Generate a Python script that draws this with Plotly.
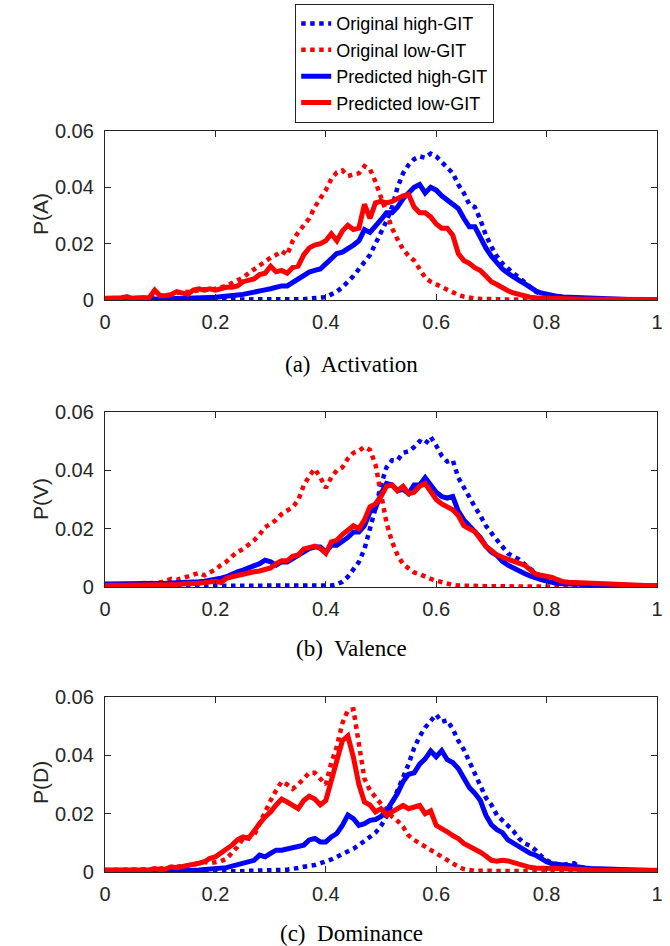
import plotly.graph_objects as go

# ---------------- data ----------------
BIN_CENTERS = [round(i * 0.01, 2) for i in range(101)]

SERIES_NAMES = ["Original high-GIT", "Original low-GIT", "Predicted high-GIT", "Predicted low-GIT"]
PANEL_YLABELS = ["P(A)", "P(V)", "P(D)"]
PANEL_CAPTIONS = ["(a)  Activation", "(b)  Valence", "(c)  Dominance"]
X_TICKS = [0, 0.2, 0.4, 0.6, 0.8, 1]
X_TICK_LABELS = ["0", "0.2", "0.4", "0.6", "0.8", "1"]
Y_TICKS = [0, 0.02, 0.04, 0.06]
Y_TICK_LABELS = ["0", "0.02", "0.04", "0.06"]

# Activation
A_orig_high = [0] * 34 + [
    0.0001, 0.0002, 0.0003, 0.0005, 0.0006, 0.0008, 0.001, 0.002, 0.003, 0.0045,
    0.0064, 0.0085, 0.011, 0.0135, 0.016, 0.020, 0.024, 0.028, 0.033, 0.040,
    0.045, 0.048, 0.050, 0.051, 0.0505, 0.052, 0.051, 0.049, 0.0475, 0.045,
    0.041, 0.038, 0.034, 0.033, 0.0285, 0.023, 0.019, 0.0155, 0.013, 0.011,
    0.0095, 0.008, 0.0064, 0.0045, 0.003, 0.002, 0.0015, 0.0011, 0.0008, 0.0006,
    0.0005, 0.0004, 0.0003, 0.0003, 0.0002, 0.0002, 0.0001,
    0.0001, 0.0001, 0.0001, 0.0001, 0, 0, 0, 0, 0, 0]
A_orig_low = [
    0.0005, 0.0005, 0.0005, 0.0006, 0.0008, 0.0006, 0.0007, 0.0008, 0.001, 0.0012,
    0.0012, 0.0014, 0.0018, 0.0025, 0.003, 0.0028, 0.003, 0.0035, 0.0038, 0.0035,
    0.004, 0.0045, 0.005, 0.006, 0.007, 0.008, 0.0095, 0.011, 0.0125, 0.014,
    0.015, 0.016, 0.0174, 0.016, 0.021, 0.024, 0.0265, 0.029, 0.033, 0.036,
    0.039, 0.043, 0.0453, 0.046, 0.044, 0.0445, 0.045, 0.0475, 0.0465, 0.042,
    0.0365, 0.031, 0.0255, 0.0215, 0.018, 0.0157, 0.014, 0.011, 0.008, 0.0065,
    0.0055, 0.0045, 0.0035, 0.0025, 0.0018, 0.0012, 0.0007, 0.0005, 0.0004, 0.0003,
    0.0003] + [0.0002] * 5 + [0.0001] * 5 + [0] * 20
A_pred_high = [0] * 9 + [
    0.0001, 0.0003, 0.0004, 0.0004, 0.0005, 0.0005, 0.0006, 0.0007, 0.0008, 0.0008,
    0.0009, 0.001, 0.0011, 0.0013, 0.0015, 0.0018, 0.002, 0.0023, 0.0028, 0.0033,
    0.0036, 0.004, 0.0045, 0.005, 0.005, 0.0062, 0.0075, 0.0088, 0.0099, 0.0105,
    0.011, 0.0128, 0.0145, 0.0165, 0.017, 0.018, 0.0195, 0.021, 0.025, 0.024,
    0.026, 0.0285, 0.031, 0.031, 0.033, 0.036, 0.038, 0.040, 0.041, 0.038,
    0.040, 0.039, 0.037, 0.0355, 0.034, 0.0325, 0.029, 0.026, 0.026, 0.022,
    0.0185, 0.0155, 0.013, 0.011, 0.0095, 0.0085, 0.007, 0.0058, 0.0045, 0.0033,
    0.0025, 0.002, 0.0016, 0.0013, 0.0011, 0.001, 0.0008, 0.0007, 0.0006, 0.0005,
    0.0005, 0.0004, 0.0003, 0.0003, 0.0002, 0.0002, 0.0002, 0.0001, 0.0001, 0.0001,
    0.0001, 0.0001]
A_pred_low = [
    0.0006, 0.0006, 0.0007, 0.0008, 0.0012, 0.0005, 0.0008, 0.001, 0.0008, 0.0035,
    0.0015, 0.0015, 0.002, 0.003, 0.0025, 0.002, 0.0035, 0.004, 0.0035, 0.004,
    0.0035, 0.004, 0.0045, 0.0045, 0.005, 0.0065, 0.0068, 0.0075, 0.009, 0.0095,
    0.012, 0.010, 0.0105, 0.0095, 0.0115, 0.012, 0.016, 0.0185, 0.0195, 0.020,
    0.021, 0.0235, 0.021, 0.0245, 0.0265, 0.025, 0.0255, 0.034, 0.029, 0.0345,
    0.035, 0.0345, 0.035, 0.036, 0.037, 0.0375, 0.033, 0.031, 0.031, 0.0295,
    0.027, 0.0255, 0.0255, 0.023, 0.0165, 0.014, 0.013, 0.0115, 0.0105, 0.0085,
    0.0065, 0.0055, 0.0042, 0.0033, 0.0025, 0.002, 0.0013, 0.001, 0.0008, 0.0007,
    0.0006, 0.0005, 0.0005, 0.0004, 0.0004, 0.0004] + [0.0003] * 5 + [0.0002] * 10

# Valence
B_orig_high = [0.0004] * 3 + [0.0002] * 38 + [
    0.0005, 0.0009, 0.0018, 0.0035, 0.006, 0.0086, 0.013, 0.0195, 0.027, 0.035,
    0.041, 0.0435, 0.0435, 0.046, 0.0465, 0.048, 0.050, 0.049, 0.0515, 0.0485,
    0.045, 0.043, 0.0435, 0.0375, 0.034, 0.0305, 0.0275, 0.0245, 0.021, 0.0185,
    0.016, 0.0135, 0.0115, 0.0105, 0.0095, 0.0078, 0.0062, 0.0048, 0.0037, 0.0028,
    0.0022, 0.0018, 0.0015, 0.0012, 0.001, 0.0009, 0.0008, 0.0007, 0.0007, 0.0006,
    0.0005, 0.0005, 0.0004, 0.0004, 0.0003, 0.0003, 0.0003, 0.0002, 0.0002, 0.0002]
B_orig_low = [
    0.0008, 0.0008, 0.0008, 0.0008, 0.0008, 0.0009, 0.001, 0.0014, 0.0012, 0.0013,
    0.0016, 0.002, 0.0028, 0.0025, 0.003, 0.0035, 0.004, 0.0048, 0.004, 0.005,
    0.006, 0.0075, 0.0087, 0.0105, 0.012, 0.013, 0.0143, 0.016, 0.018, 0.0205,
    0.0216, 0.023, 0.025, 0.026, 0.0274, 0.0297, 0.0348, 0.038, 0.0405, 0.0376,
    0.034, 0.0376, 0.040, 0.041, 0.044, 0.046, 0.0467, 0.048, 0.047, 0.042,
    0.031, 0.022, 0.0155, 0.011, 0.0078, 0.0063, 0.005, 0.0044, 0.0035, 0.0028,
    0.0022, 0.0016, 0.0011, 0.0007, 0.0005, 0.0004, 0.0003, 0.0003, 0.0003, 0.0003,
    0.0003] + [0.0002] * 15 + [0.0001] * 15
B_pred_high = [
    0.001, 0.001, 0.0009, 0.0009, 0.001, 0.001, 0.001, 0.0011, 0.0011, 0.0012,
    0.0012, 0.0013, 0.0014, 0.0014, 0.0015, 0.0015, 0.0017, 0.0018, 0.002, 0.0022,
    0.0025, 0.003, 0.0035, 0.0045, 0.0052, 0.0058, 0.0064, 0.007, 0.008, 0.0092,
    0.0086, 0.0075, 0.0086, 0.0086, 0.0098, 0.011, 0.012, 0.0132, 0.0137, 0.0137,
    0.012, 0.0143, 0.0143, 0.0155, 0.017, 0.0189, 0.0189, 0.021, 0.0257, 0.027,
    0.032, 0.0355, 0.035, 0.033, 0.0335, 0.032, 0.035, 0.035, 0.0375, 0.035,
    0.0325, 0.031, 0.0305, 0.031, 0.026, 0.023, 0.021, 0.0195, 0.017, 0.014,
    0.012, 0.0108, 0.0088, 0.0075, 0.0064, 0.0055, 0.0046, 0.0038, 0.003, 0.0025,
    0.002, 0.0014, 0.0012, 0.0011, 0.001, 0.001, 0.0009, 0.0009, 0.0008, 0.0008,
    0.0007, 0.0007, 0.0006, 0.0006, 0.0005, 0.0005, 0.0005, 0.0004, 0.0004, 0.0004,
    0.0004]
B_pred_low = [
    0.0005, 0.0005, 0.0005, 0.0006, 0.0005, 0.0005, 0.0006, 0.0007, 0.0007, 0.0007,
    0.0008, 0.0008, 0.0009, 0.0009, 0.001, 0.001, 0.0012, 0.0013, 0.0015, 0.0018,
    0.002, 0.0015, 0.003, 0.0035, 0.004, 0.0045, 0.005, 0.0052, 0.0055, 0.006,
    0.0065, 0.008, 0.009, 0.009, 0.0105, 0.011, 0.013, 0.0135, 0.014, 0.0132,
    0.0115, 0.0155, 0.016, 0.018, 0.0195, 0.021, 0.020, 0.023, 0.0275, 0.0285,
    0.031, 0.0345, 0.035, 0.033, 0.0345, 0.032, 0.0325, 0.0345, 0.0355, 0.033,
    0.030, 0.0285, 0.0274, 0.0265, 0.0245, 0.021, 0.020, 0.019, 0.0165, 0.014,
    0.0125, 0.011, 0.0102, 0.0095, 0.009, 0.0085, 0.0075, 0.006, 0.0045, 0.004,
    0.0037, 0.0033, 0.0025, 0.0018, 0.0016, 0.0015, 0.0014, 0.0013, 0.0012, 0.0011,
    0.001, 0.0009, 0.0009, 0.0008, 0.0007, 0.0007, 0.0006, 0.0006, 0.0005, 0.0005,
    0.0005]

# Dominance
C_orig_high = [0] * 11 + [
    0.0001, 0.0001, 0.0002, 0.0002, 0.0002, 0.0002, 0.0003, 0.0003, 0.0003, 0.0003,
    0.0003, 0.0003, 0.0003, 0.0003, 0.0003, 0.0004, 0.0004, 0.0004, 0.0005, 0.0005,
    0.0006, 0.0007, 0.0008, 0.001, 0.0014, 0.0018, 0.002, 0.0024, 0.003, 0.0035,
    0.0043, 0.0052, 0.006, 0.007, 0.008, 0.0092, 0.0105, 0.012, 0.0135, 0.0158,
    0.019, 0.0235, 0.028, 0.0325, 0.037, 0.0425, 0.0465, 0.0495, 0.052, 0.054,
    0.0515, 0.052, 0.049, 0.045, 0.042, 0.038, 0.0335, 0.0295, 0.0255, 0.023,
    0.0195, 0.0177, 0.016, 0.014, 0.0115, 0.0098, 0.009, 0.0075, 0.0055, 0.004,
    0.003, 0.0026, 0.0024, 0.0028, 0.003, 0.0015, 0.0012, 0.001, 0.0009, 0.0008,
    0.0007, 0.0006, 0.0006, 0.0005, 0.0005, 0.0004, 0.0004, 0.0004, 0.0003, 0.0003]
C_orig_low = [0.0007] * 8 + [
    0.0008, 0.001, 0.0012, 0.0012, 0.0015, 0.0018, 0.002, 0.0022, 0.0025, 0.003,
    0.0035, 0.003, 0.0032, 0.0037, 0.0045, 0.0065, 0.0086, 0.0115, 0.012, 0.0125,
    0.0166, 0.021, 0.0245, 0.028, 0.031, 0.030, 0.0285, 0.030, 0.032, 0.034,
    0.034, 0.032, 0.030, 0.0375, 0.043, 0.051, 0.0555, 0.0558, 0.045, 0.032,
    0.028, 0.0255, 0.0235, 0.021, 0.019, 0.0175, 0.0155, 0.0125, 0.011, 0.0098,
    0.0086, 0.0075, 0.0064, 0.0052, 0.004, 0.003, 0.0018, 0.001, 0.0006, 0.0004,
    0.0004, 0.0004, 0.0003, 0.0003, 0.0003, 0.0003, 0.0003, 0.0003] + [0.0002] * 25
C_pred_high = [0.0002] * 11 + [
    0.0002, 0.0003, 0.0003, 0.0004, 0.0005, 0.0006, 0.0007, 0.0008, 0.001, 0.0012,
    0.0013, 0.0015, 0.002, 0.0024, 0.003, 0.0035, 0.004, 0.0058, 0.0052, 0.0064,
    0.0075, 0.0075, 0.008, 0.0084, 0.0086, 0.0092, 0.011, 0.0115, 0.0103, 0.0103,
    0.012, 0.0132, 0.016, 0.0195, 0.0183, 0.016, 0.0166, 0.0177, 0.018, 0.019,
    0.021, 0.024, 0.027, 0.031, 0.0335, 0.034, 0.037, 0.0388, 0.0415, 0.0395,
    0.0416, 0.0385, 0.0375, 0.0355, 0.032, 0.029, 0.027, 0.0245, 0.0195, 0.0162,
    0.0145, 0.0135, 0.011, 0.0098, 0.0088, 0.0075, 0.0064, 0.0058, 0.0045, 0.0035,
    0.0028, 0.0024, 0.0024, 0.0022, 0.0018, 0.0016, 0.0014, 0.0012, 0.0011, 0.001,
    0.0009, 0.0008, 0.0008, 0.0007, 0.0007, 0.0007, 0.0006, 0.0006, 0.0005, 0.0005]
C_pred_low = [0.0007] * 9 + [
    0.0012, 0.0008, 0.001, 0.0018, 0.0015, 0.0018, 0.002, 0.0025, 0.003, 0.0035,
    0.0047, 0.0052, 0.0064, 0.0075, 0.0092, 0.011, 0.012, 0.0115, 0.0143, 0.0166,
    0.0189, 0.0206, 0.023, 0.025, 0.024, 0.023, 0.0217, 0.0245, 0.026, 0.025,
    0.023, 0.0245, 0.0314, 0.0393, 0.045, 0.0467, 0.0393, 0.030, 0.024, 0.023,
    0.0206, 0.0217, 0.0195, 0.0206, 0.0217, 0.0228, 0.0217, 0.0223, 0.0228, 0.020,
    0.021, 0.016, 0.015, 0.0138, 0.0125, 0.0115, 0.0098, 0.0088, 0.008, 0.0068,
    0.0055, 0.004, 0.0037, 0.004, 0.0038, 0.0033, 0.0024, 0.002, 0.0016, 0.0014,
    0.0012, 0.0012, 0.0012, 0.0012, 0.0012, 0.0012, 0.0012, 0.001, 0.0009, 0.0007,
    0.0007, 0.0006] + [0.0006] * 10

PANELS = [
    [A_orig_high, A_orig_low, A_pred_high, A_pred_low],
    [B_orig_high, B_orig_low, B_pred_high, B_pred_low],
    [C_orig_high, C_orig_low, C_pred_high, C_pred_low],
]

# ---------------- style ----------------
W, H = 670, 946
COLORS = ["#0000ff", "#ff0000", "#0000ff", "#ff0000"]
DASHES = ["4.5px,4.5px", "4.5px,4.5px", "solid", "solid"]
AXIS_COLOR = "#262626"
SANS = "Liberation Sans, Arial, sans-serif"
SERIF = "Liberation Serif, Times New Roman, serif"

# plot areas in pixels: (top, bottom)
PLOT_LEFT, PLOT_RIGHT = 105, 657
PLOT_ROWS = [(131, 300), (412, 587), (697, 872)]
YLABEL_Y = [214, 499, 783]
CAPTION_Y = [364, 648, 933]

fig = go.Figure()

for p, series in enumerate(PANELS):
    suffix = "" if p == 0 else str(p + 1)
    for s, yvals in enumerate(series):
        fig.add_trace(go.Scatter(
            x=BIN_CENTERS, y=yvals, mode="lines",
            name=SERIES_NAMES[s],
            line=dict(color=COLORS[s], width=5 if s >= 2 else 4.5, dash=DASHES[s]),
            showlegend=(p == 0),
            xaxis="x" + suffix, yaxis="y" + suffix,
            hoverinfo="skip",
        ))

layout = dict(
    width=W, height=H,
    margin=dict(l=0, r=0, t=0, b=0, autoexpand=False),
    paper_bgcolor="white", plot_bgcolor="white",
    showlegend=True,
    legend=dict(
        x=295 / W, y=1 - 4 / H, xanchor="left", yanchor="top",
        bgcolor="white", bordercolor=AXIS_COLOR, borderwidth=1.2,
        font=dict(family=SANS, size=18, color="black"),
        tracegroupgap=0, itemwidth=30,
    ),
    annotations=[],
)

for p, (top, bottom) in enumerate(PLOT_ROWS):
    suffix = "" if p == 0 else str(p + 1)
    common = dict(
        showline=True, linecolor=AXIS_COLOR, linewidth=1.3, mirror="ticks",
        ticks="inside", ticklen=6, tickwidth=1.3, tickcolor=AXIS_COLOR,
        showgrid=False, zeroline=False, automargin=False,
        tickfont=dict(family=SANS, size=20, color=AXIS_COLOR),
    )
    layout["xaxis" + suffix] = dict(
        common, domain=[PLOT_LEFT / W, PLOT_RIGHT / W], range=[0, 1],
        tickvals=X_TICKS, ticktext=X_TICK_LABELS,
        anchor="y" + suffix, ticklabelstandoff=4,
    )
    layout["yaxis" + suffix] = dict(
        common, domain=[1 - bottom / H, 1 - top / H], range=[0, 0.06],
        tickvals=Y_TICKS, ticktext=Y_TICK_LABELS,
        anchor="x" + suffix, ticklabelstandoff=6,
    )
    layout["annotations"].append(dict(
        text=PANEL_YLABELS[p], xref="paper", yref="paper",
        x=40 / W, y=1 - YLABEL_Y[p] / H, xanchor="center", yanchor="middle",
        textangle=-90, showarrow=False,
        font=dict(family=SANS, size=21, color=AXIS_COLOR),
    ))
    layout["annotations"].append(dict(
        text=PANEL_CAPTIONS[p], xref="paper", yref="paper",
        x=351 / W, y=1 - CAPTION_Y[p] / H, xanchor="center", yanchor="middle",
        showarrow=False,
        font=dict(family=SERIF, size=23, color="black"),
    ))

fig.update_layout(**layout)
# remove the page's default 8px body margin so the figure sits at the window's corner
fig.write_html(
    "out.html",
    config={"displayModeBar": False},
    post_script="document.body.style.margin='0';document.body.style.overflow='hidden';",
)
